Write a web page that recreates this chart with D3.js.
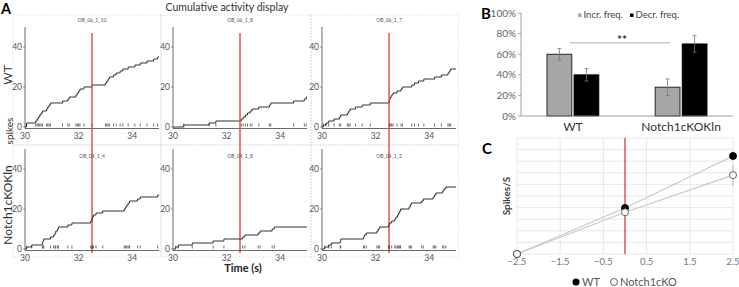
<!DOCTYPE html>
<html>
<head>
<meta charset="utf-8">
<script src="https://cdn.jsdelivr.net/npm/d3@7"></script>
<style>
body { margin: 0; background: #fff; }
text { font-family: Lato, "Open Sans", sans-serif; }
</style>
</head>
<body>
<div class="chart"></div>
<script>
// panel A: spike times (s) per cell
var cellNames = ["OB_06_1_10", "OB_06_1_8", "OB_06_1_7", "OB_04_1_4", "OB_04_1_8", "OB_04_1_2"];
var spikes_06_1_10 = [30.05, 30.06, 30.4, 30.45, 30.5, 30.55, 30.6, 30.65, 30.8, 30.85, 30.9, 30.95,
                      31.4, 31.6, 31.65, 31.9, 31.95, 32.0, 32.05, 32.2, 32.5, 33.0, 33.05, 33.1, 33.15,
                      33.3, 33.4, 33.55, 33.65, 33.85, 34.1, 34.3, 34.55, 34.8, 34.95];
var spikes_06_1_8 = [30.4, 31.35, 31.6, 32.55, 32.62, 32.7, 32.78, 32.88, 32.95, 33.2, 33.6, 33.65, 34.5, 34.9, 34.97];
var spikes_06_1_7 = [30.05, 30.15, 30.25, 30.45, 30.65, 30.7, 30.95, 31.0, 31.05, 31.25, 31.5, 31.8,
                     32.5, 32.52, 32.55, 32.6, 32.65, 32.8, 32.95, 33.0, 33.35, 33.45, 33.6, 33.8,
                     34.2, 34.45, 34.7, 34.75, 34.8];
var spikes_04_1_4 = [30.06, 30.25, 30.65, 30.67, 30.7, 30.95, 31.07, 31.12, 31.15, 31.22, 31.25, 31.6, 31.75,
                     32.45, 32.5, 32.52, 32.55, 32.65, 32.9, 33.7, 33.75, 33.8, 33.85, 33.9, 34.2, 34.3, 34.95];
var spikes_04_1_8 = [30.1, 30.2, 30.72, 31.5, 31.9, 32.6, 32.68, 33.18, 33.25, 33.7, 33.78];
var spikes_04_1_2 = [30.1, 30.25, 30.35, 30.68, 30.7, 31.55, 31.58, 31.65, 32.05, 32.1, 32.15, 32.48, 32.52,
                     32.6, 32.72, 32.76, 32.82, 32.86, 32.9, 32.93, 33.25, 33.3, 33.33, 33.72, 33.78,
                     34.15, 34.2, 34.25, 34.5, 34.55, 34.62];
var allSpikes = [spikes_06_1_10, spikes_06_1_8, spikes_06_1_7, spikes_04_1_4, spikes_04_1_8, spikes_04_1_2];
var timeTicks = [30, 32, 34];
var countTicks = [0, 20, 40];
var stimTime = 32.5;

// panel B
var groups = ["WT", "Notch1cKOKln"];
var barKeys = ["Incr. freq.", "Decr. freq."];
var incrFreq = [60, 28];
var decrFreq = [40, 70];
var incrErr = [5.5, 8];
var decrErr = [6, 8];
var pctTicks = [0, 20, 40, 60, 80, 100];

// panel C
var binTimes = [-2.5, 0, 2.5];
var wtRate = [0, 3.97, 8.45];
var koRate = [0, 3.6, 6.8];
var wtRateErr = [0, 0.25, 0.4];
var koRateErr = [0, 0.3, 0.9];
var binTicks = [-2.5, -1.5, -0.5, 0.5, 1.5, 2.5];

var svg = d3.select(".chart").append("svg")
    .attr("width", 739)
    .attr("height", 287);

svg.append("rect").attr("width", 739).attr("height", 287).attr("fill", "#fff");

// ---------- A ----------
svg.append("text").attr("x", 1).attr("y", 14).attr("font-size", 14.5).attr("font-weight", "bold")
    .attr("font-family", "Liberation Sans").text("A");
svg.append("text").attr("x", 227).attr("y", 11).attr("text-anchor", "middle")
    .attr("font-size", 10.5).attr("fill", "#333").text("Cumulative activity display");

var colX = [25, 173, 322];
var boxX = [13, 161, 311, 458];
var rowY = [127, 249];
var boxY = [15, 145, 257];

for (var r = 0; r < 2; r++) {
    for (var c = 0; c < 3; c++) {
        svg.append("rect")
            .attr("x", boxX[c]).attr("y", boxY[r])
            .attr("width", boxX[c + 1] - boxX[c]).attr("height", boxY[r + 1] - boxY[r])
            .attr("fill", "none").attr("stroke", "#d4d4d4").attr("stroke-width", 0.7)
            .attr("stroke-dasharray", "1.5,1.5");
    }
}

svg.append("text").attr("transform", "translate(11.5,75) rotate(-90)").attr("text-anchor", "middle")
    .attr("font-size", 12).attr("fill", "#333").text("WT");
svg.append("text").attr("transform", "translate(11.5,205) rotate(-90)").attr("text-anchor", "middle")
    .attr("font-size", 12).attr("fill", "#333").text("Notch1cKOKln");
svg.append("text").attr("transform", "translate(13,131) rotate(-90)").attr("text-anchor", "middle")
    .attr("font-size", 10).attr("fill", "#333").text("spikes");

allSpikes.forEach(function(times, i) {
    var r = Math.floor(i / 3), c = i % 3;
    var x = d3.scaleLinear().domain([30, 35]).range([colX[c], colX[c] + 134]);
    var y = d3.scaleLinear().domain([0, 50]).range([rowY[r], rowY[r] - 100]);
    var g = svg.append("g");

    var pts = [[30, 0]];
    times.forEach(function(t, k) { pts.push([t, k + 1]); });
    pts.push([35, times.length]);

    // axes
    g.append("line").attr("x1", x(30)).attr("x2", x(30)).attr("y1", y(0) + 1.5).attr("y2", y(50))
        .attr("stroke", "#444").attr("stroke-width", 0.8);
    g.append("line").attr("x1", x(30)).attr("x2", x(35)).attr("y1", y(0) + 1.5).attr("y2", y(0) + 1.5)
        .attr("stroke", "#444").attr("stroke-width", 0.8);

    g.selectAll(".yt").data(countTicks).enter().append("text")
        .attr("x", x(30) - 3).attr("y", function(d) { return y(d) + 2.5; })
        .attr("text-anchor", "end").attr("font-size", 8.5).attr("fill", "#555")
        .text(function(d) { return d; });
    g.selectAll(".ytk").data(countTicks).enter().append("line")
        .attr("x1", x(30) - 2).attr("x2", x(30)).attr("y1", function(d) { return y(d); })
        .attr("y2", function(d) { return y(d); }).attr("stroke", "#555").attr("stroke-width", 0.6);
    g.selectAll(".xt").data(timeTicks).enter().append("text")
        .attr("x", function(d) { return x(d); }).attr("y", y(0) + 11.5)
        .attr("text-anchor", "middle").attr("font-size", 8.5).attr("fill", "#555")
        .text(function(d) { return d; });

    // raster
    g.selectAll(".sp").data(times).enter().append("line")
        .attr("x1", function(d) { return x(d); }).attr("x2", function(d) { return x(d); })
        .attr("y1", y(0) - 3.5).attr("y2", y(0) - 0.5)
        .attr("stroke", "#333").attr("stroke-width", 0.7);

    // cumulative count
    g.append("path")
        .attr("d", d3.line().x(function(d) { return x(d[0]); }).y(function(d) { return y(d[1]); })
            .curve(d3.curveStepAfter)(pts))
        .attr("fill", "none").attr("stroke", "#333").attr("stroke-width", 1);

    g.append("text").attr("x", x(stimTime)).attr("y", r == 0 ? 22 : 158)
        .attr("text-anchor", "middle").attr("font-size", 5).attr("fill", "#555")
        .text(cellNames[i]);

    if (r == 0) {
        svg.append("line").attr("x1", x(stimTime)).attr("x2", x(stimTime))
            .attr("y1", 33).attr("y2", 253)
            .attr("stroke", "#e0463f").attr("stroke-width", 1.4);
    }
});

svg.append("text").attr("x", 243).attr("y", 272).attr("text-anchor", "middle")
    .attr("font-size", 11).attr("font-weight", "bold").attr("fill", "#222").text("Time (s)");

// ---------- B ----------
svg.append("text").attr("x", 481).attr("y", 19).attr("font-size", 15).attr("font-weight", "bold")
    .attr("font-family", "Liberation Sans").text("B");

var yB = d3.scaleLinear().domain([0, 100]).range([116, 13]);
var x0 = d3.scaleBand().domain(groups).range([521, 733]).paddingInner(0.48).paddingOuter(0.22);
var x1 = d3.scaleBand().domain(barKeys).range([0, x0.bandwidth()]).padding(0.08);
var barFill = ["#a6a6a6", "#000"];

svg.selectAll(".pt").data(pctTicks).enter().append("text")
    .attr("x", 516).attr("y", function(d) { return yB(d) + 3.5; })
    .attr("text-anchor", "end").attr("font-size", 10).attr("fill", "#666")
    .text(function(d) { return d + "%"; });
svg.selectAll(".ptk").data(pctTicks).enter().append("line")
    .attr("x1", 518).attr("x2", 521).attr("y1", function(d) { return yB(d); })
    .attr("y2", function(d) { return yB(d); }).attr("stroke", "#888").attr("stroke-width", 0.7);
svg.append("line").attr("x1", 521).attr("x2", 521).attr("y1", yB(0)).attr("y2", yB(100))
    .attr("stroke", "#888").attr("stroke-width", 0.8);

var barRows = [];
groups.forEach(function(gname, i) {
    barRows.push({ group: gname, key: barKeys[0], v: incrFreq[i], e: incrErr[i], fill: barFill[0] });
    barRows.push({ group: gname, key: barKeys[1], v: decrFreq[i], e: decrErr[i], fill: barFill[1] });
});

svg.selectAll(".bar").data(barRows).enter().append("rect")
    .attr("x", function(d) { return x0(d.group) + x1(d.key); })
    .attr("y", function(d) { return yB(d.v); })
    .attr("width", x1.bandwidth())
    .attr("height", function(d) { return yB(0) - yB(d.v); })
    .attr("fill", function(d) { return d.fill; })
    .attr("stroke", "#000").attr("stroke-width", 0.8);

barRows.forEach(function(d) {
    var cx = x0(d.group) + x1(d.key) + x1.bandwidth() / 2;
    svg.append("line").attr("x1", cx).attr("x2", cx).attr("y1", yB(d.v - d.e)).attr("y2", yB(d.v + d.e))
        .attr("stroke", "#777").attr("stroke-width", 0.8);
    [d.v - d.e, d.v + d.e].forEach(function(v) {
        svg.append("line").attr("x1", cx - 2).attr("x2", cx + 2).attr("y1", yB(v)).attr("y2", yB(v))
            .attr("stroke", "#777").attr("stroke-width", 0.8);
    });
});

svg.append("line").attr("x1", 521).attr("x2", 733).attr("y1", yB(0)).attr("y2", yB(0))
    .attr("stroke", "#888").attr("stroke-width", 0.8);

svg.selectAll(".gl").data(groups).enter().append("text")
    .attr("x", function(d) { return x0(d) + x0.bandwidth() / 2; }).attr("y", 131)
    .attr("text-anchor", "middle").attr("font-size", 12).attr("fill", "#333")
    .text(function(d) { return d; });

// significance
svg.append("line").attr("x1", 570).attr("x2", 670).attr("y1", yB(71)).attr("y2", yB(71))
    .attr("stroke", "#999").attr("stroke-width", 0.8);
svg.append("text").attr("x", 622).attr("y", 44).attr("text-anchor", "middle")
    .attr("font-size", 12).attr("font-weight", "bold").attr("fill", "#333").text("**");

// legend
var legX = [578, 630];
barKeys.forEach(function(k, i) {
    svg.append("rect").attr("x", legX[i]).attr("y", 13.5).attr("width", 3.5).attr("height", 3.5)
        .attr("fill", barFill[i]);
    svg.append("text").attr("x", legX[i] + 5.5).attr("y", 18).attr("font-size", 9.5).attr("fill", "#444")
        .text(k);
});

// ---------- C ----------
svg.append("text").attr("x", 482).attr("y", 154).attr("font-size", 15).attr("font-weight", "bold")
    .attr("font-family", "Liberation Sans").text("C");

var xC = d3.scaleLinear().domain([-2.5, 2.5]).range([517, 733]);
var yC = d3.scaleLinear().domain([0, 10]).range([254, 138]);

svg.selectAll(".vg").data(binTicks).enter().append("line")
    .attr("x1", function(d) { return xC(d); }).attr("x2", function(d) { return xC(d); })
    .attr("y1", yC(0)).attr("y2", yC(10)).attr("stroke", "#e2e2e2").attr("stroke-width", 0.8);
svg.selectAll(".hg").data(d3.range(0, 11)).enter().append("line")
    .attr("x1", xC(-2.5)).attr("x2", xC(2.5))
    .attr("y1", function(d) { return yC(d); }).attr("y2", function(d) { return yC(d); })
    .attr("stroke", "#e2e2e2").attr("stroke-width", 0.8);

svg.selectAll(".ct").data(binTicks).enter().append("text")
    .attr("x", function(d) { return xC(d); }).attr("y", 265)
    .attr("text-anchor", "middle").attr("font-size", 9.5).attr("fill", "#777")
    .text(function(d) { return d3.format(".1f")(d); });

svg.append("text").attr("transform", "translate(510,196) rotate(-90)").attr("text-anchor", "middle")
    .attr("font-size", 10).attr("font-weight", "bold").attr("fill", "#444").text("Spikes/S");

svg.append("line").attr("x1", xC(0)).attr("x2", xC(0)).attr("y1", yC(10)).attr("y2", yC(0))
    .attr("stroke", "#e0463f").attr("stroke-width", 1.4);

var lineC = d3.line().x(function(d) { return xC(d[0]); }).y(function(d) { return yC(d[1]); });
var series = [
    { vals: wtRate, err: wtRateErr, fill: "#000" },
    { vals: koRate, err: koRateErr, fill: "#fff" }
];
series.forEach(function(s) {
    svg.append("path").attr("d", lineC(binTimes.map(function(t, i) { return [t, s.vals[i]]; })))
        .attr("fill", "none").attr("stroke", "#c8c8c8").attr("stroke-width", 1.2);
});
series.forEach(function(s) {
    binTimes.forEach(function(t, i) {
        if (s.err[i] > 0) {
            svg.append("line").attr("x1", xC(t)).attr("x2", xC(t))
                .attr("y1", yC(s.vals[i] - s.err[i])).attr("y2", yC(s.vals[i] + s.err[i]))
                .attr("stroke", "#aaa").attr("stroke-width", 0.8);
        }
    });
    svg.selectAll(null).data(binTimes).enter().append("circle")
        .attr("cx", function(d) { return xC(d); })
        .attr("cy", function(d, i) { return yC(s.vals[i]); })
        .attr("r", 3.5)
        .attr("fill", s.fill).attr("stroke", s.fill == "#000" ? "#000" : "#555").attr("stroke-width", 0.9);
});

// legend C
svg.append("circle").attr("cx", 576).attr("cy", 282).attr("r", 3.5).attr("fill", "#000");
svg.append("text").attr("x", 582).attr("y", 286).attr("font-size", 11).attr("fill", "#555").text("WT");
svg.append("circle").attr("cx", 614).attr("cy", 282).attr("r", 3.5).attr("fill", "#fff")
    .attr("stroke", "#555").attr("stroke-width", 0.9);
svg.append("text").attr("x", 620).attr("y", 286).attr("font-size", 11).attr("fill", "#555").text("Notch1cKO");
</script>
</body>
</html>
